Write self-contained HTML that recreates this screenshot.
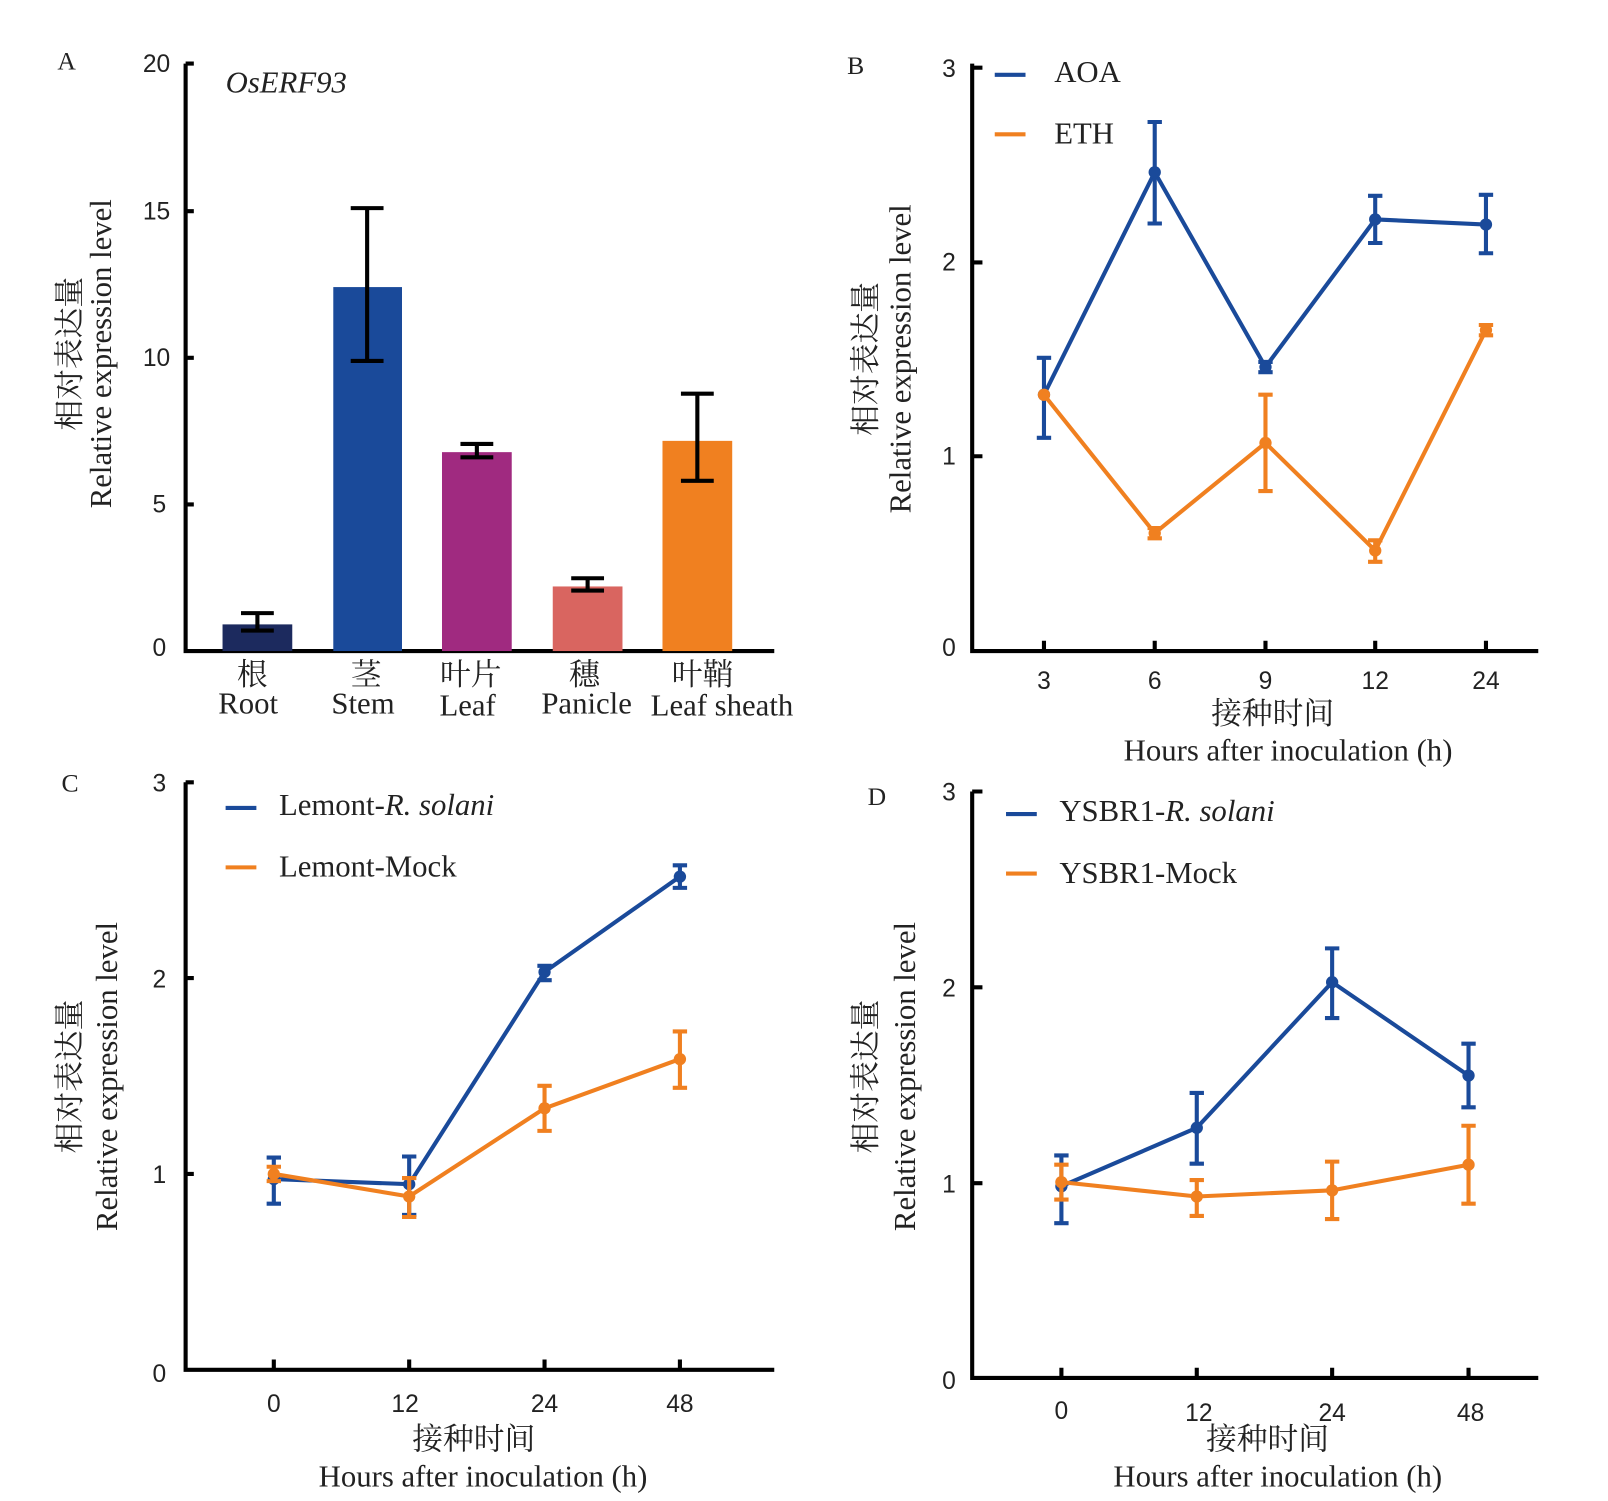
<!DOCTYPE html>
<html><head><meta charset="utf-8"><style>body{margin:0;background:#fff}svg{display:block}</style></head><body>
<svg width="1608" height="1501" viewBox="0 0 1568 1464" preserveAspectRatio="none" xmlns="http://www.w3.org/2000/svg">
<g font-family="Liberation Serif, Noto Serif CJK SC, serif" fill="#222" font-size="25">
<text x="56" y="68">A</text><text x="826" y="72">B</text><text x="60" y="772">C</text><text x="846" y="785">D</text>
</g>
<g stroke="#000" stroke-width="4" fill="none">
<path d="M181 62V635H755M181 62h8M181 206h8M181 349h8M181 492h8"/>
<path d="M948 62V635H1500M948 66h10M948 256h10M948 445h10M1018 635v-10M1126 635v-10M1234 635v-10M1341 635v-10M1449 635v-10"/>
<path d="M181 763V1336H755M181 763h8M181 954h8M181 1145h8M267 1336v-10M399 1336v-10M531 1336v-10M663 1336v-10"/>
<path d="M948 772V1344H1500M948 772h10M948 963h10M948 1154h10M1035 1344v-10M1167 1344v-10M1299 1344v-10M1432 1344v-10"/>
</g>
<g font-family="Liberation Sans, sans-serif" font-size="24" fill="#222" text-anchor="end">
<text x="166" y="70">20</text><text x="166" y="214">15</text><text x="166" y="357">10</text><text x="162" y="500">5</text><text x="162" y="640">0</text>
<text x="932" y="75">3</text><text x="932" y="264">2</text><text x="932" y="453">1</text><text x="932" y="640">0</text>
<text x="162" y="772">3</text><text x="162" y="963">2</text><text x="162" y="1154">1</text><text x="162" y="1348">0</text>
<text x="932" y="781">3</text><text x="932" y="972">2</text><text x="932" y="1163">1</text><text x="932" y="1355">0</text>
</g>
<g font-family="Liberation Sans, sans-serif" font-size="24" fill="#222" text-anchor="middle">
<text x="1018" y="672">3</text><text x="1126" y="672">6</text><text x="1234" y="672">9</text><text x="1341" y="672">12</text><text x="1449" y="672">24</text>
<text x="267" y="1377">0</text><text x="395" y="1377">12</text><text x="531" y="1377">24</text><text x="663" y="1377">48</text>
<text x="1035" y="1384">0</text><text x="1169" y="1386">12</text><text x="1299" y="1386">24</text><text x="1434" y="1386">48</text>
</g>
<g font-family="Liberation Serif, Noto Serif CJK SC, serif" font-size="30" fill="#222" text-anchor="middle">
<text x="246" y="668">根</text><text x="242" y="696">Root</text>
<text x="357" y="668">茎</text><text x="354" y="696">Stem</text>
<text x="459" y="668">叶片</text><text x="456" y="698">Leaf</text>
<text x="570" y="668">穗</text><text x="572" y="696">Panicle</text>
<text x="685" y="668">叶鞘</text><text x="704" y="698">Leaf sheath</text>
<text x="1241" y="706">接种时间</text><text x="1256" y="742">Hours after inoculation (h)</text>
<text x="462" y="1414">接种时间</text><text x="471" y="1450">Hours after inoculation (h)</text>
<text x="1236" y="1414">接种时间</text><text x="1246" y="1450">Hours after inoculation (h)</text>
<text transform="translate(78,345) rotate(-90)">相对表达量</text><text transform="translate(108,345) rotate(-90)">Relative expression level</text>
<text transform="translate(854,350) rotate(-90)">相对表达量</text><text transform="translate(888,350) rotate(-90)">Relative expression level</text>
<text transform="translate(78,1050) rotate(-90)">相对表达量</text><text transform="translate(114,1050) rotate(-90)">Relative expression level</text>
<text transform="translate(854,1050) rotate(-90)">相对表达量</text><text transform="translate(892,1050) rotate(-90)">Relative expression level</text>
</g>
<g font-family="Liberation Serif, serif" font-size="30" fill="#222">
<text x="220" y="90" font-style="italic">OsERF93</text>
<text x="1028" y="80">AOA</text><text x="1028" y="140">ETH</text>
<text x="272" y="795">Lemont-<tspan font-style="italic">R. solani</tspan></text><text x="272" y="855">Lemont-Mock</text>
<text x="1033" y="801">YSBR1-<tspan font-style="italic">R. solani</tspan></text><text x="1033" y="861">YSBR1-Mock</text>
</g>
<g stroke-width="4">
<path d="M970 73h30M220 788h30M981 794h30" stroke="#1a4a9a"/>
<path d="M970 131h30M220 846h30M981 852h30" stroke="#f08020"/>
</g>
<rect x="217" y="609" width="68" height="26" fill="#1c2a5e"/>
<rect x="325" y="280" width="67" height="355" fill="#1a4a9a"/>
<rect x="431" y="441" width="68" height="194" fill="#a02a80"/>
<rect x="539" y="572" width="68" height="63" fill="#d96560"/>
<rect x="646" y="430" width="68" height="205" fill="#f08020"/>
<g stroke="#000" stroke-width="4">
<path d="M251 598v17M235 598h32M235 615h32"/>
<path d="M358 203v149M342 203h32M342 352h32"/>
<path d="M465 433v13M449 433h32M449 446h32"/>
<path d="M573 564v12M557 564h32M557 576h32"/>
<path d="M680 384v85M664 384h32M664 469h32"/>
</g>
<g stroke-width="4" fill="none" stroke="#1a4a9a">
<polyline points="1018,385 1126,168 1234,358 1341,214 1449,219"/>
<path d="M1018 349v78M1011 349h14M1011 427h14M1126 119v99M1119 119h14M1119 218h14M1234 353v10M1227 353h14M1227 363h14M1341 191v46M1334 191h14M1334 237h14M1449 190v57M1442 190h14M1442 247h14"/>
<polyline points="267,1150 399,1155 531,948 663,855"/>
<path d="M267 1129v45M260 1129h14M260 1174h14M399 1128v57M392 1128h14M392 1185h14M531 942v14M524 942h14M524 956h14M663 844v22M656 844h14M656 866h14"/>
<polyline points="1035,1157 1167,1100 1299,958 1432,1049"/>
<path d="M1035 1127v66M1028 1127h14M1028 1193h14M1167 1066v69M1160 1066h14M1160 1135h14M1299 925v68M1292 925h14M1292 993h14M1432 1018v62M1425 1018h14M1425 1080h14"/>
</g>
<g fill="#1a4a9a"><circle cx="1018" cy="385" r="6"/><circle cx="1126" cy="168" r="6"/><circle cx="1234" cy="358" r="6"/><circle cx="1341" cy="214" r="6"/><circle cx="1449" cy="219" r="6"/>
<circle cx="267" cy="1150" r="6"/><circle cx="399" cy="1155" r="6"/><circle cx="531" cy="948" r="6"/><circle cx="663" cy="855" r="6"/>
<circle cx="1035" cy="1157" r="6"/><circle cx="1167" cy="1100" r="6"/><circle cx="1299" cy="958" r="6"/><circle cx="1432" cy="1049" r="6"/></g>
<g stroke-width="4" fill="none" stroke="#f08020">
<polyline points="1018,385 1126,520 1234,432 1341,537 1449,322"/>
<path d="M1126 515v10M1119 515h14M1119 525h14M1234 385v94M1227 385h14M1227 479h14M1341 527v21M1334 527h14M1334 548h14M1449 317v10M1442 317h14M1442 327h14"/>
<polyline points="267,1145 399,1167 531,1081 663,1033"/>
<path d="M267 1138v14M260 1138h14M260 1152h14M399 1149v38M392 1149h14M392 1187h14M531 1059v44M524 1059h14M524 1103h14M663 1006v55M656 1006h14M656 1061h14"/>
<polyline points="1035,1153 1167,1167 1299,1161 1432,1136"/>
<path d="M1035 1136v34M1028 1136h14M1028 1170h14M1167 1151v35M1160 1151h14M1160 1186h14M1299 1133v56M1292 1133h14M1292 1189h14M1432 1098v76M1425 1098h14M1425 1174h14"/>
</g>
<g fill="#f08020"><circle cx="1018" cy="385" r="6"/><circle cx="1126" cy="520" r="6"/><circle cx="1234" cy="432" r="6"/><circle cx="1341" cy="537" r="6"/><circle cx="1449" cy="322" r="6"/>
<circle cx="267" cy="1145" r="6"/><circle cx="399" cy="1167" r="6"/><circle cx="531" cy="1081" r="6"/><circle cx="663" cy="1033" r="6"/>
<circle cx="1035" cy="1153" r="6"/><circle cx="1167" cy="1167" r="6"/><circle cx="1299" cy="1161" r="6"/><circle cx="1432" cy="1136" r="6"/></g>
</svg>
</body></html>
